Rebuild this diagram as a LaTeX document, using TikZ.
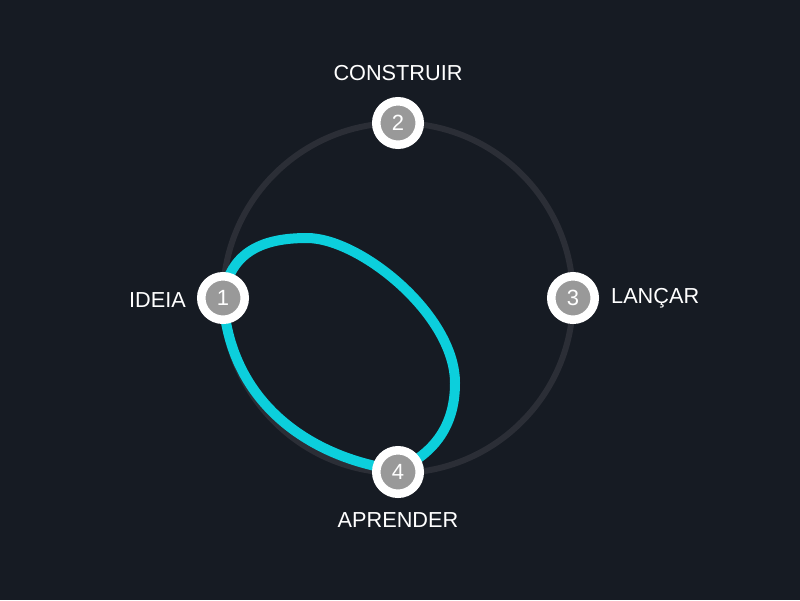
\documentclass[tikz,border=0pt]{standalone}
\usepackage{fontspec}
\setmainfont{Liberation Sans}
\begin{document}
\begin{tikzpicture}[x=1pt,y=-1pt,
  stepnum/.style={circle, fill=numgray, draw=white, line width=8.5pt, minimum size=43.5pt, inner sep=0pt, text=white, font=\fontsize{22}{22}\selectfont},
  lbl/.style={text=white, font=\fontsize{21.7}{22}\selectfont, inner sep=0pt}]
\definecolor{bg}{HTML}{161B23}
\definecolor{ring}{HTML}{2B2E36}
\definecolor{numgray}{HTML}{999999}
\definecolor{loopc}{HTML}{0CCFDC}
\fill[bg] (0,0) rectangle (800,600);
\useasboundingbox (0,0) rectangle (800,600);
\coordinate (c) at (398,298);
\draw[ring, line width=6pt] (c) circle[radius=175];
\coordinate (p1) at (223,298);
\coordinate (p4) at (398,470);
\coordinate (top) at (307,238);
\coordinate (rt) at (455,383);
\draw[loopc, line width=10pt, line join=round]
  (p1) .. controls (230,250) and (265,238) .. (top)
       .. controls (360,238) and (455,315) .. (rt)
       .. controls (455,430) and (430,455) .. (p4)
       .. controls (320,460) and (230,410) .. (p1) -- cycle;
\node[stepnum] (n1) at (223,298) {1};
\node[stepnum] (n2) at (398,123) {2};
\node[stepnum] (n3) at (573,298) {3};
\node[stepnum] (n4) at (398,472) {4};
\node[lbl, anchor=east] (l1) at (186,300) {IDEIA};
\node[lbl] (l2) at (398,73) {CONSTRUIR};
\node[lbl, anchor=west] (l3) at (611,298) {LANÇAR};
\node[lbl] (l4) at (398,520) {APRENDER};
\end{tikzpicture}
\end{document}
